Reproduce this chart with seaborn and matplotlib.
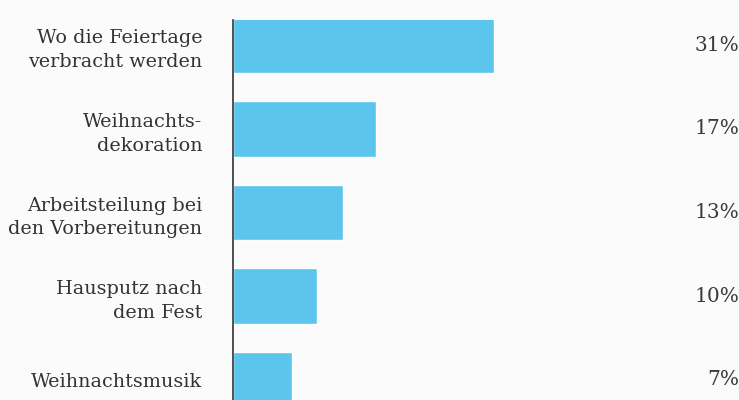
import matplotlib
matplotlib.use("Agg")
import matplotlib.pyplot as plt
import seaborn as sns
import pandas as pd

# Themen, über die an Weihnachten gestritten wird (Anteil in %)
themen = [
    "Wo die Feiertage\nverbracht werden",
    "Weihnachts-\ndekoration",
    "Arbeitsteilung bei\nden Vorbereitungen",
    "Hausputz nach\ndem Fest",
    "Weihnachtsmusik",
]
anteile = [31, 17, 13, 10, 7]

df = pd.DataFrame({"thema": themen, "anteil": anteile})

sns.set_style("white")
plt.rcParams["font.family"] = ["DejaVu Serif"]

fig = plt.figure(figsize=(7.39, 4.0), dpi=100, facecolor="#fbfbfb")
ax = fig.add_axes([233 / 739, 0, 1 - 233 / 739, 380 / 400])
ax.set_facecolor("#fbfbfb")

sns.barplot(data=df, x="anteil", y="thema", orient="h", color="#5bc5ee",
            saturation=1, width=0.67, ax=ax)

ax.set_xlim(0, 60)
ax.set_ylim(4.245, -0.305)
ax.set_xlabel("")
ax.set_ylabel("")
ax.set_xticks([])
sns.despine(ax=ax, top=True, right=True, bottom=True, left=False)
ax.spines["left"].set_color("#333333")
ax.spines["left"].set_linewidth(1.2)
ax.tick_params(axis="y", length=0, pad=22, labelsize=13.8, labelcolor="#333333")
for lab in ax.get_yticklabels():
    lab.set_fontfamily("DejaVu Serif")
    lab.set_linespacing(1.42)

# Prozentwerte am rechten Rand
for i, v in enumerate(anteile):
    ax.text(1.0, i, f"{v}%", transform=ax.get_yaxis_transform(),
            ha="right", va="center", fontsize=14.5, color="#3a3a3a",
            family="DejaVu Serif")

fig.savefig("out.png", dpi=100, facecolor=fig.get_facecolor())
